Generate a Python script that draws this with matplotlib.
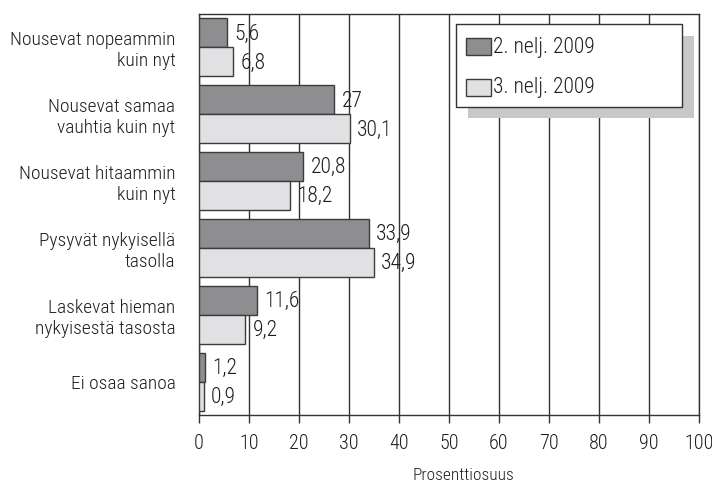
import numpy as np
import matplotlib.pyplot as plt
from matplotlib.patches import Rectangle
from matplotlib import font_manager

# pick a condensed family if one is installed
installed = {f.name for f in font_manager.fontManager.ttflist}
wanted = ['Roboto Condensed', 'Archivo Narrow', 'PT Sans Narrow', 'Liberation Sans Narrow',
          'Fira Sans Condensed', 'IBM Plex Sans Condensed', 'Barlow Condensed', 'Asap Condensed']
family = [f for f in wanted if f in installed][:1] + ['DejaVu Sans']
plt.rcParams['font.family'] = family
plt.rcParams['font.weight'] = 'light'

categories = ['Nousevat nopeammin\nkuin nyt', 'Nousevat samaa\nvauhtia kuin nyt',
              'Nousevat hitaammin\nkuin nyt', 'Pysyvät nykyisellä\ntasolla',
              'Laskevat hieman\nnykyisestä tasosta', 'Ei osaa sanoa']
q2 = [5.6, 27, 20.8, 33.9, 11.6, 1.2]
q3 = [6.8, 30.1, 18.2, 34.9, 9.2, 0.9]
series_names = ['2. nelj. 2009', '3. nelj. 2009']
colors = ['#8e8e90', '#e1e1e3']
txt = '#1e1e1e'

fig = plt.figure(figsize=(7.12, 4.83), dpi=100)
ax = fig.add_axes([199/712, 1-415/483, 500/712, 401/483])

y = np.arange(len(categories))
h = 0.435
ax.barh(y - h/2, q2, height=h, color=colors[0], edgecolor='#3c3c3c', linewidth=1, zorder=3)
ax.barh(y + h/2, q3, height=h, color=colors[1], edgecolor='#3c3c3c', linewidth=1, zorder=3)

for i in range(len(categories)):
    ax.text(q2[i] + 1.5, y[i] - h/2 + 0.02, f'{q2[i]:g}'.replace('.', ','),
            va='center', ha='left', fontsize=15.5, color=txt, zorder=4)
    ax.text(q3[i] + 1.5, y[i] + h/2 + 0.02, f'{q3[i]:g}'.replace('.', ','),
            va='center', ha='left', fontsize=15.5, color=txt, zorder=4)

ax.set_xlim(0, 100)
ax.set_ylim(len(categories) - 0.5, -0.5)
ax.set_xticks(np.arange(0, 101, 10))
ax.tick_params(axis='x', labelsize=14.5, length=6, width=1, color='#333333', pad=8, labelcolor=txt)
ax.set_yticks(y)
ax.set_yticklabels(categories, fontsize=14, multialignment='right', color=txt)
ax.tick_params(axis='y', length=0, pad=17)
ax.grid(axis='x', color='#333333', linewidth=1, zorder=0)
for s in ax.spines.values():
    s.set_color('#333333')
    s.set_linewidth(1)

fig.text(463/712, 1-476/483, 'Prosenttiosuus', ha='center', va='center', fontsize=12.5, color=txt)

# legend box with shadow
fig.add_artist(Rectangle((468/712, 1-118/483), 226/712, 82/483, transform=fig.transFigure,
                         facecolor='#c8c8c8', edgecolor='none', zorder=5))
fig.add_artist(Rectangle((456/712, 1-107/483), 226/712, 83/483, transform=fig.transFigure,
                         facecolor='white', edgecolor='#333333', linewidth=1, zorder=6))
for k, yy in enumerate([47, 88]):
    fig.add_artist(Rectangle((466/712, 1-(yy+8)/483), 25/712, 17/483, transform=fig.transFigure,
                             facecolor=colors[k], edgecolor='#3c3c3c', linewidth=1, zorder=7))
    fig.text(493/712, 1-yy/483, series_names[k], ha='left', va='center', fontsize=15.5,
             color=txt, zorder=8)

fig.savefig('out.png', dpi=100)
